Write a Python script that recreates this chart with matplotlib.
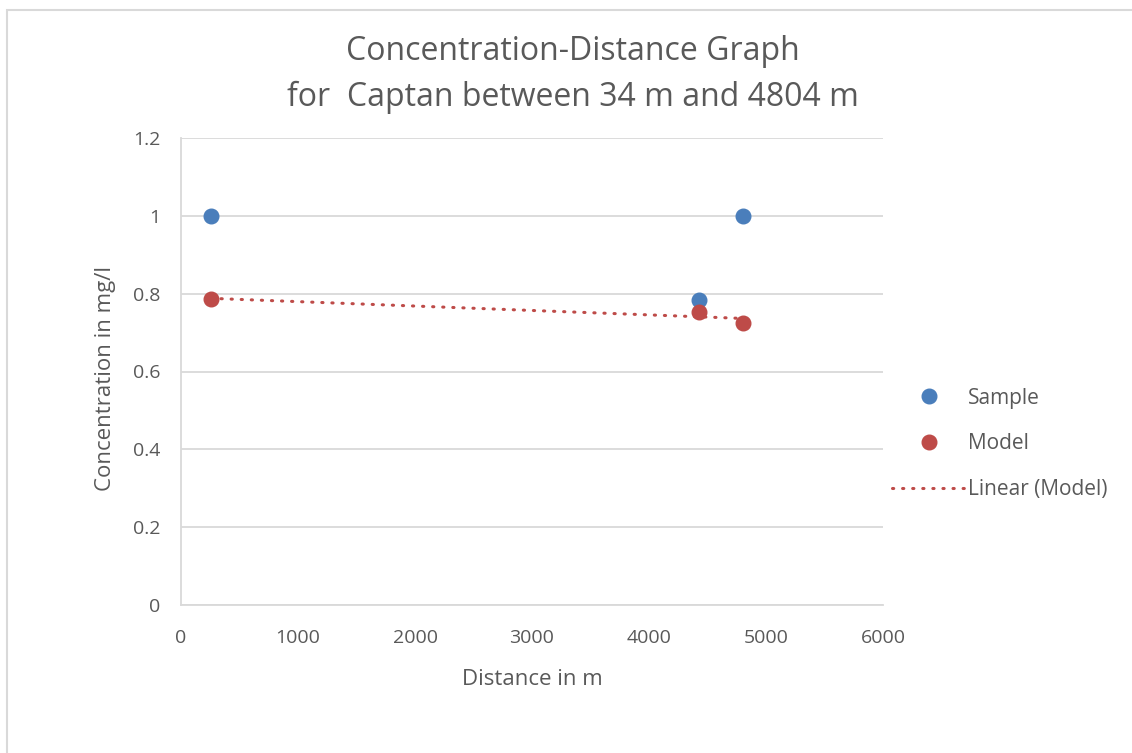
import matplotlib.pyplot as plt
import numpy as np
from matplotlib.patches import Rectangle

# concentration of Captan along the river
sample_dist = [256, 4427, 4803]
sample_conc = [1.0, 0.784, 1.0]
model_dist = [256, 4427, 4803]
model_conc = [0.787, 0.753, 0.725]

x_ticks = [0, 1000, 2000, 3000, 4000, 5000, 6000]
y_ticks = [0, 0.2, 0.4, 0.6, 0.8, 1, 1.2]
y_labels = ["0", "0.2", "0.4", "0.6", "0.8", "1", "1.2"]

blue = "#4a7ebb"
red = "#be4b48"
grey_txt = "#595959"
grid_col = "#d9d9d9"

plt.rcParams['font.family'] = ['Open Sans', 'DejaVu Sans']

fig = plt.figure(figsize=(11.32, 7.53), dpi=100)
fig.patches.append(Rectangle((7 / 1132, -0.01), 1.02, 1 - 10 / 753 + 0.01,
                             transform=fig.transFigure, fill=False,
                             edgecolor="#d9d9d9", linewidth=1.5))

ax = fig.add_axes([181 / 1132, 1 - 605 / 753, 702 / 1132, 467 / 753])

ax.plot(sample_dist, sample_conc, "o", color=blue, ms=10.5, label="Sample", zorder=3)
ax.plot(model_dist, model_conc, "o", color=red, ms=10.5, label="Model", zorder=3)

# least-squares trend line through the model points
k, b = np.polyfit(model_dist, model_conc, 1)
xs = np.array([min(model_dist), max(model_dist)])
ax.plot(xs, k * xs + b, color=red, lw=2.2, dashes=(0.4, 2.9),
        dash_capstyle="round", label="Linear (Model)", zorder=2)

ax.set_xlim(0, 6000)
ax.set_ylim(0, 1.2)
ax.set_xticks(x_ticks)
ax.set_yticks(y_ticks)
ax.set_yticklabels(y_labels)
ax.grid(axis="y", color=grid_col, lw=1.3)
ax.set_axisbelow(True)
for s in ["top", "right"]:
    ax.spines[s].set_visible(False)
for s in ["left", "bottom"]:
    ax.spines[s].set_color(grid_col)
    ax.spines[s].set_linewidth(1.3)
ax.tick_params(length=0, labelsize=14, labelcolor=grey_txt, pad=15)
ax.tick_params(axis="x", pad=17)

ax.set_xlabel("Distance in m", fontsize=16, color=grey_txt, labelpad=16)
ax.set_ylabel("Concentration in mg/l", fontsize=16, color=grey_txt)
ax.yaxis.set_label_coords(-0.093, 0.486)

fig.text(0.506, 1 - 52 / 753, "Concentration-Distance Graph", ha="center",
         va="center", fontsize=23, color=grey_txt)
fig.text(0.506, 1 - 97 / 753, "for  Captan between 34 m and 4804 m", ha="center",
         va="center", fontsize=23, color=grey_txt)

ax.legend(loc="center left", bbox_to_anchor=(0.996, 0.345), frameon=False,
          fontsize=15, labelcolor=grey_txt, handlelength=3.5,
          labelspacing=1.19, handletextpad=0.15, borderaxespad=0.18)

fig.savefig("out.png", dpi=100)
